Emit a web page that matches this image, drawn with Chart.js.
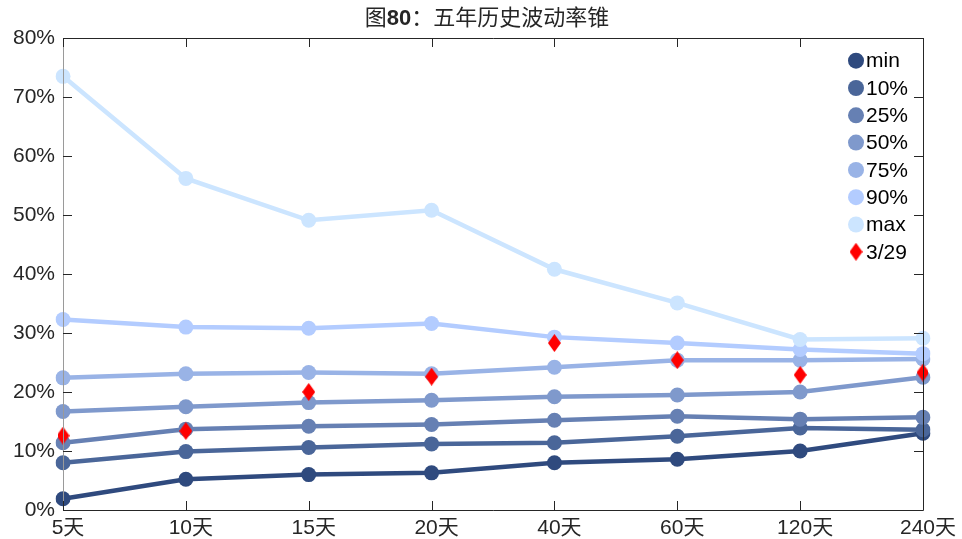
<!DOCTYPE html>
<html>
<head>
<meta charset="utf-8">
<script src="https://cdn.jsdelivr.net/npm/chart.js@4/dist/chart.umd.min.js"></script>
<style>
  html, body { margin: 0; padding: 0; background: #fff; }
  #wrap { width: 962px; height: 539px; position: relative; }
</style>
</head>
<body>
<div id="wrap"><canvas id="cone"></canvas></div>
<script>
// data (values in %)
const categories = ['5天', '10天', '15天', '20天', '40天', '60天', '120天', '240天'];
const seriesNames = ['min', '10%', '25%', '50%', '75%', '90%', 'max'];
const minVals = [1.9, 5.2, 6.0, 6.3, 8.0, 8.6, 10.0, 13.0];
const p10Vals = [8.0, 9.9, 10.6, 11.2, 11.4, 12.5, 13.9, 13.6];
const p25Vals = [11.4, 13.7, 14.2, 14.5, 15.2, 15.9, 15.4, 15.7];
const p50Vals = [16.7, 17.5, 18.2, 18.6, 19.2, 19.5, 20.0, 22.5];
const p75Vals = [22.4, 23.1, 23.3, 23.1, 24.2, 25.4, 25.4, 25.6];
const p90Vals = [32.3, 31.0, 30.8, 31.6, 29.3, 28.3, 27.2, 26.5];
const maxVals = [73.5, 56.2, 49.1, 50.8, 40.8, 35.1, 28.9, 29.1];
const currentLabel = '3/29';
const currentVals = [12.6, 13.4, 20.0, 22.6, 28.3, 25.4, 22.9, 23.3];
const yTicks = [0, 10, 20, 30, 40, 50, 60, 70, 80];
const colors = ['#2f4a7e', '#4a6699', '#6680b3', '#7f99cc', '#99b3e6', '#b3ccff', '#cce5ff'];

const FONT = '"Liberation Sans", Arial, "Noto Sans CJK SC", sans-serif';
const TXT = '#262626';

// tall red diamond used as marker
function makeDiamond(w, h) {
  const cv = document.createElement('canvas');
  cv.width = w; cv.height = h;
  const c = cv.getContext('2d');
  c.fillStyle = '#ff0000';
  c.beginPath();
  c.moveTo(w / 2, 0); c.lineTo(w, h / 2); c.lineTo(w / 2, h); c.lineTo(0, h / 2);
  c.closePath(); c.fill();
  return cv;
}
const diamond = makeDiamond(13, 18);

const allSeries = [minVals, p10Vals, p25Vals, p50Vals, p75Vals, p90Vals, maxVals];
const datasets = allSeries.map((vals, i) => ({
  label: seriesNames[i],
  data: vals,
  borderColor: colors[i],
  backgroundColor: colors[i],
  borderWidth: 4.5,
  pointRadius: 7.5,
  pointBorderWidth: 0,
  pointHoverRadius: 7.5,
  tension: 0,
  order: 7 - i
}));
datasets.push({
  label: currentLabel,
  data: currentVals,
  showLine: false,
  pointStyle: diamond,
  backgroundColor: '#ff0000',
  borderColor: '#ff0000',
  order: 0
});

// frame, inward ticks, title and legend
const decor = {
  id: 'decor',
  afterDraw(chart) {
    const ctx = chart.ctx;
    const a = chart.chartArea;
    const xs = chart.scales.x, ys = chart.scales.y;
    ctx.save();
    ctx.lineWidth = 1;
    // left axis (grey)
    ctx.strokeStyle = '#9a9a9a';
    ctx.beginPath(); ctx.moveTo(a.left + 0.5, a.top); ctx.lineTo(a.left + 0.5, a.bottom); ctx.stroke();
    // other sides
    ctx.strokeStyle = '#262626';
    ctx.beginPath();
    ctx.moveTo(a.left, a.top + 0.5); ctx.lineTo(a.right + 0.5, a.top + 0.5);
    ctx.lineTo(a.right + 0.5, a.bottom + 0.5); ctx.lineTo(a.left, a.bottom + 0.5);
    ctx.stroke();
    ctx.beginPath();
    yTicks.forEach(v => {
      const y = Math.round(ys.getPixelForValue(v)) + 0.5;
      ctx.moveTo(a.left, y); ctx.lineTo(a.left + 9, y);
      ctx.moveTo(a.right, y); ctx.lineTo(a.right - 9, y);
    });
    categories.forEach((c, i) => {
      const x = Math.round(xs.getPixelForValue(i)) + 0.5;
      ctx.moveTo(x, a.bottom); ctx.lineTo(x, a.bottom - 9);
      ctx.moveTo(x, a.top); ctx.lineTo(x, a.top + 9);
    });
    ctx.stroke();

    // title with bold number
    const parts = [['图', 'normal'], ['80', 'bold'], ['：五年历史波动率锥', 'normal']];
    ctx.fillStyle = TXT;
    ctx.textBaseline = 'middle';
    ctx.textAlign = 'left';
    let total = 0;
    parts.forEach(p => { ctx.font = p[1] + ' 22px ' + FONT; total += ctx.measureText(p[0]).width; });
    let tx = 487 - total / 2;
    parts.forEach(p => {
      ctx.font = p[1] + ' 22px ' + FONT;
      ctx.fillText(p[0], tx, 19);
      tx += ctx.measureText(p[0]).width;
    });

    // legend
    ctx.font = '21px ' + FONT;
    chart.data.datasets.forEach((ds, i) => {
      const y = 60.7 + i * 27.3;
      if (ds.pointStyle === diamond) {
        ctx.drawImage(diamond, 856 - 6.5, y - 9, 13, 18);
      } else {
        ctx.fillStyle = ds.backgroundColor;
        ctx.beginPath(); ctx.arc(856, y, 8, 0, Math.PI * 2); ctx.fill();
      }
      ctx.fillStyle = '#000';
      ctx.fillText(ds.label, 866, y + 1);
    });
    ctx.restore();
  }
};

new Chart(document.getElementById('cone'), {
  type: 'line',
  data: { labels: categories, datasets: datasets },
  options: {
    responsive: true,
    maintainAspectRatio: false,
    animation: false,
    events: [],
    layout: { padding: { top: 38, right: 39, left: 0, bottom: 0 } },
    plugins: { legend: { display: false }, title: { display: false }, tooltip: { enabled: false } },
    scales: {
      x: {
        type: 'category',
        offset: false,
        grid: { display: false, drawTicks: false },
        border: { display: false },
        ticks: { color: TXT, font: { family: FONT, size: 21 }, padding: 6, labelOffset: 5, maxRotation: 0, autoSkip: false },
        afterFit(s) { s.height = 29; }
      },
      y: {
        min: 0,
        max: 80,
        grid: { display: false, drawTicks: false },
        border: { display: false },
        afterBuildTicks(s) { s.ticks = yTicks.map(v => ({ value: v })); },
        ticks: { color: TXT, font: { family: FONT, size: 21 }, padding: 8, callback: v => v + '%' },
        afterFit(s) { s.width = 63; }
      }
    }
  },
  plugins: [decor]
});
</script>
</body>
</html>
